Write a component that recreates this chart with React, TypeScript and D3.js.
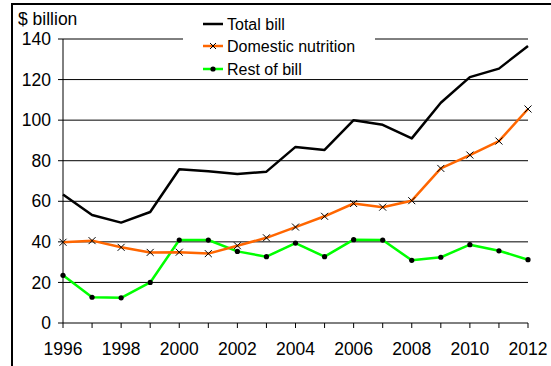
import React from "react";
import * as d3 from "d3";

const years = [1996, 1997, 1998, 1999, 2000, 2001, 2002, 2003, 2004, 2005, 2006, 2007, 2008, 2009, 2010, 2011, 2012];
const totalBill = [63.3, 53.2, 49.5, 54.7, 75.8, 74.8, 73.4, 74.6, 86.8, 85.3, 100.0, 97.7, 91.0, 108.6, 121.2, 125.4, 136.6];
const domesticNutrition = [39.8, 40.6, 37.3, 34.8, 34.9, 34.2, 38.1, 42.0, 47.3, 52.6, 58.9, 57.1, 60.3, 76.2, 82.8, 89.7, 105.5];
const restOfBill = [23.5, 12.7, 12.4, 20.0, 40.9, 40.9, 35.3, 32.7, 39.4, 32.7, 41.1, 40.9, 30.9, 32.4, 38.6, 35.6, 31.2];
const yTicks = [0, 20, 40, 60, 80, 100, 120, 140];
const xLabels = [1996, 1998, 2000, 2002, 2004, 2006, 2008, 2010, 2012];
const seriesNames = ["Total bill", "Domestic nutrition", "Rest of bill"];

const W = 551;
const H = 366;
const FONT = "'Liberation Sans', Arial, Helvetica, sans-serif";

export default function App() {
  const x = d3.scaleLinear().domain([1996, 2012]).range([63, 528]);
  const y = d3.scaleLinear().domain([0, 140]).range([323, 39]);

  const line = (vals: number[]) =>
    d3.line<number>()
      .x((_, i) => x(years[i]))
      .y((v) => y(v))(vals) as string;

  const cross = (cx: number, cy: number, s: number, key: string) => (
    <path key={key} d={`M${cx - s},${cy - s}L${cx + s},${cy + s}M${cx - s},${cy + s}L${cx + s},${cy - s}`} stroke="#000" strokeWidth={1} fill="none" />
  );

  const legendY = [24, 46, 69];

  return (
    <svg width={W} height={H} style={{ position: "absolute", left: 0, top: 0, background: "#fff" }} fontFamily={FONT}>
      <rect x={0} y={0} width={W} height={H} fill="#fff" />
      {/* outer frame */}
      <rect x={12} y={4} width={W + 20} height={H + 20} fill="none" stroke="#000" strokeWidth={2} />

      {/* gridlines */}
      {yTicks.filter((t) => t > 0).map((t) => (
        <line key={`g${t}`} x1={x(1996)} x2={x(2012)} y1={y(t)} y2={y(t)} stroke="#000" strokeWidth={1} />
      ))}

      {/* y axis */}
      <line x1={x(1996)} x2={x(1996)} y1={y(140)} y2={y(0)} stroke="#000" strokeWidth={1} />
      {yTicks.map((t) => (
        <g key={`yt${t}`}>
          <line x1={x(1996) - 5} x2={x(1996)} y1={y(t)} y2={y(t)} stroke="#000" strokeWidth={1} />
          <text x={51} y={y(t)} dy="0.35em" textAnchor="end" fontSize={17.5} fill="#000">{t}</text>
        </g>
      ))}
      <text x={18} y={25} fontSize={17.5} fill="#000">$ billion</text>

      {/* x axis */}
      <line x1={x(1996)} x2={x(2012)} y1={y(0)} y2={y(0)} stroke="#000" strokeWidth={1} />
      {years.map((yr) => (
        <line key={`xt${yr}`} x1={x(yr)} x2={x(yr)} y1={y(0)} y2={y(0) + 5} stroke="#000" strokeWidth={1} />
      ))}
      {xLabels.map((yr) => (
        <text key={`xl${yr}`} x={x(yr)} y={355} textAnchor="middle" fontSize={17.5} fill="#000">{yr}</text>
      ))}

      {/* series */}
      <path d={line(restOfBill)} fill="none" stroke="#00ff00" strokeWidth={2.5} strokeLinejoin="round" />
      <path d={line(domesticNutrition)} fill="none" stroke="#ff6600" strokeWidth={2.5} strokeLinejoin="round" />
      <path d={line(totalBill)} fill="none" stroke="#000" strokeWidth={2.5} strokeLinejoin="round" />
      {restOfBill.map((v, i) => (
        <circle key={`rd${i}`} cx={x(years[i])} cy={y(v)} r={2.6} fill="#000" />
      ))}
      {domesticNutrition.map((v, i) => cross(x(years[i]), y(v), 3.5, `dx${i}`))}

      {/* legend */}
      <rect x={183} y={6} width={192} height={72} fill="#fff" />
      {seriesNames.map((name, i) => (
        <g key={name}>
          <line x1={203} x2={223} y1={legendY[i]} y2={legendY[i]} stroke={["#000", "#ff6600", "#00ff00"][i]} strokeWidth={2.5} />
          {i === 1 && cross(213, legendY[i], 3, "lx")}
          {i === 2 && <circle cx={213} cy={legendY[i]} r={2.6} fill="#000" />}
          <text x={227} y={legendY[i]} dy="0.35em" fontSize={16} fill="#000">{name}</text>
        </g>
      ))}
    </svg>
  );
}
